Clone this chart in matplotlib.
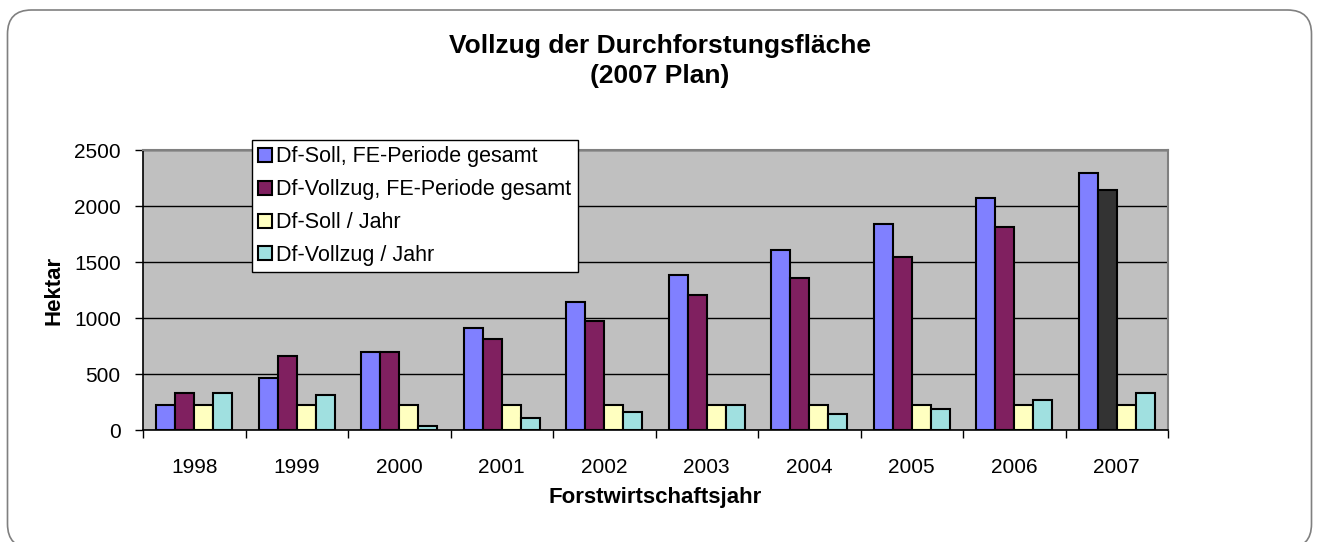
import matplotlib
matplotlib.use("Agg")
import matplotlib.pyplot as plt
from matplotlib.patches import FancyBboxPatch
from matplotlib.transforms import IdentityTransform
import numpy as np

plt.rcParams['font.family'] = ['Liberation Sans', 'DejaVu Sans']

years = ['1998', '1999', '2000', '2001', '2002', '2003', '2004', '2005', '2006', '2007']
soll_gesamt = [227, 460, 693, 914, 1147, 1380, 1607, 1837, 2070, 2294]
vollzug_gesamt = [334, 657, 693, 809, 970, 1206, 1356, 1544, 1810, 2144]
soll_jahr = [225, 225, 225, 225, 225, 225, 225, 225, 225, 225]
vollzug_jahr = [334, 316, 39, 108, 158, 227, 143, 185, 269, 334]

series = [
    ('Df-Soll, FE-Periode gesamt', soll_gesamt, '#8080FF'),
    ('Df-Vollzug, FE-Periode gesamt', vollzug_gesamt, '#802060'),
    ('Df-Soll / Jahr', soll_jahr, '#FFFFC0'),
    ('Df-Vollzug / Jahr', vollzug_jahr, '#A0E0E0'),
]

W, H = 1317, 542
fig = plt.figure(figsize=(W/100, H/100), dpi=100)
fig.patch.set_facecolor('white')

# rounded outer frame (pixel coordinates, origin bottom-left)
frame = FancyBboxPatch((7.5, -6), 1304, 542 - 10 + 6,
                       boxstyle="round,pad=0,rounding_size=24",
                       transform=IdentityTransform(), facecolor='white',
                       edgecolor='#808080', linewidth=1.2, zorder=-5)
fig.patches.append(frame)

ax = fig.add_axes([143/W, 1-430/H, (1168-143)/W, (430-150)/H])
ax.set_facecolor('#C0C0C0')

x = np.arange(len(years))
bw = 0.185
offsets = (np.arange(4) - 1.5) * bw
for i, (name, vals, col) in enumerate(series):
    colors = [col] * len(vals)
    if i == 1:
        colors[-1] = '#333333'
    ax.bar(x + offsets[i], vals, width=bw, color=colors, edgecolor='black',
           linewidth=1.5, label=name, zorder=3)

ax.set_xlim(-0.5, len(years) - 0.5)
ax.set_ylim(0, 2500)
ax.set_yticks([0, 500, 1000, 1500, 2000, 2500])
ax.yaxis.grid(True, color='black', linewidth=1, zorder=0)
ax.set_axisbelow(True)

ax.set_xticks(x)
ax.set_xticklabels(years)
ax.set_xticks(np.arange(len(years) + 1) - 0.5, minor=True)
ax.tick_params(axis='x', which='major', length=0, pad=20, labelsize=15)
ax.tick_params(axis='x', which='minor', length=6, width=1, direction='out')
ax.tick_params(axis='y', length=6, width=1, direction='out', labelsize=15, pad=10)

for s in ['top', 'right']:
    ax.spines[s].set_color('#808080')
    ax.spines[s].set_linewidth(1.5)
for s in ['left', 'bottom']:
    ax.spines[s].set_color('black')
    ax.spines[s].set_linewidth(1.2)

fig.text(655/W, 1-498/H, 'Forstwirtschaftsjahr', ha='center', va='center',
         fontsize=16, fontweight='bold')
fig.text(54/W, 1-290/H, 'Hektar', ha='center', va='center', rotation=90,
         fontsize=16, fontweight='bold')

fig.text(660/W, 1-46/H, 'Vollzug der Durchforstungsfläche', ha='center', va='center',
         fontsize=19, fontweight='bold')
fig.text(660/W, 1-76/H, '(2007 Plan)', ha='center', va='center',
         fontsize=19, fontweight='bold')

leg = fig.legend(loc='upper left', bbox_to_anchor=(252/W, 1-140/H),
                 bbox_transform=fig.transFigure, fontsize=15.5, frameon=True,
                 fancybox=False, edgecolor='black', framealpha=1,
                 handlelength=0.62, handleheight=0.62, handletextpad=0.2,
                 labelspacing=0.55, borderpad=0.3, borderaxespad=0)
leg.get_frame().set_linewidth(1)
leg.set_zorder(10)

fig.savefig('out.png', dpi=100, facecolor='white')
